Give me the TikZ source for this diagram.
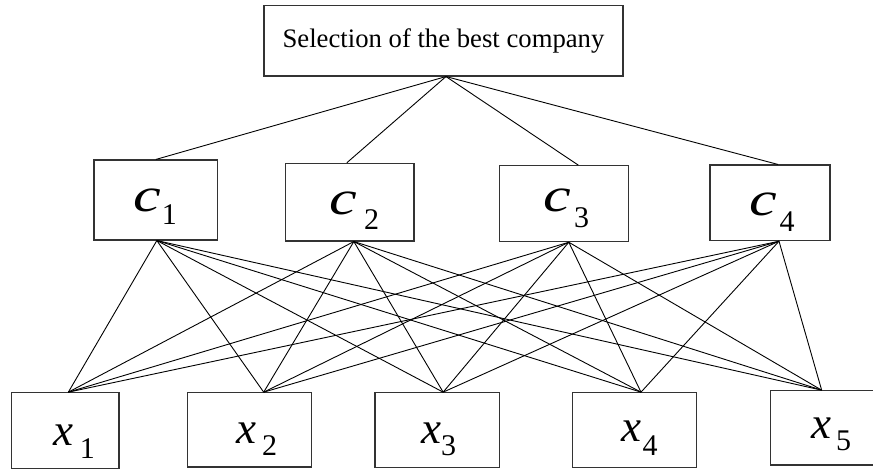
\documentclass[tikz,border=0pt]{standalone}
\usepackage{graphicx}
\usepackage{fontspec}
\setmainfont{Liberation Serif}
\newcommand{\clab}[3]{\rlap{\scalebox{1.3}[1]{\fontsize{48}{48}\selectfont\itshape c}}\hspace{#1pt}\raisebox{-#2pt}{\fontsize{30}{30}\selectfont #3}}
\newcommand{\xlab}[3]{\rlap{\fontsize{45}{45}\selectfont\itshape x}\hspace{#1pt}\raisebox{-#2pt}{\fontsize{30}{30}\selectfont #3}}
\begin{document}
\begin{tikzpicture}[x=1pt,y=-1pt,
  box/.style={draw=black!80, line width=1.1pt, rectangle, inner sep=0pt},
  link/.style={draw=black, line width=0.9pt},
  lbl/.style={inner sep=0pt, anchor=base west}]
\useasboundingbox (0,0) rectangle (873,470);
% boxes
\node[box, minimum width=359pt, minimum height=70.3pt, font=\fontsize{26.7}{30}\selectfont] (top) at (443.5,40.85) {Selection of the best company};
\node[box, minimum width=123.7pt, minimum height=80pt] (c1) at (155.85,200) {};
\node[box, minimum width=128.3pt, minimum height=77.7pt] (c2) at (349.85,202.15) {};
\node[box, minimum width=129pt, minimum height=76pt] (c3) at (563.8,203.7) {};
\node[box, minimum width=120pt, minimum height=75.7pt] (c4) at (770,202.85) {};
\node[box, minimum width=107.3pt, minimum height=75.6pt] (x1) at (65.35,430.5) {};
\node[box, minimum width=124pt, minimum height=74.3pt] (x2) at (249.7,429.85) {};
\node[box, minimum width=124.3pt, minimum height=74.6pt] (x3) at (437.15,430) {};
\node[box, minimum width=124.4pt, minimum height=74.6pt] (x4) at (634.5,430) {};
\node[box, minimum width=109.3pt, minimum height=74.3pt] (x5) at (825.35,427.85) {};
% labels
\node[lbl] (lc1) at (133,211.7) {\clab{28.7}{13.3}{1}};
\node[lbl] (lc2) at (329.7,215) {\clab{34.3}{15}{2}};
\node[lbl] (lc3) at (543,212) {\clab{31}{16}{3}};
\node[lbl] (lc4) at (749.7,216) {\clab{29.8}{15.7}{4}};
\node[lbl] (lx1) at (53.1,445) {\xlab{26.6}{13.3}{1}};
\node[lbl] (lx2) at (236.4,443.3) {\xlab{25.6}{11.7}{2}};
\node[lbl] (lx3) at (421.4,443) {\xlab{19.6}{12}{3}};
\node[lbl] (lx4) at (621.4,441.7) {\xlab{21.1}{13.3}{4}};
\node[lbl] (lx5) at (811.4,438.3) {\xlab{24.6}{11.7}{5}};
% attachment points
\coordinate (tb) at ([xshift=2.5]top.south);
\coordinate (c1t) at (c1.north);
\coordinate (c2t) at ([xshift=-3]c2.north);
\coordinate (c3t) at ([xshift=14.5]c3.north);
\coordinate (c4t) at ([xshift=8]c4.north);
\coordinate (c1b) at ([xshift=1]c1.south);
\coordinate (c2b) at ([xshift=4]c2.south);
\coordinate (c3b) at ([xshift=5]c3.south);
\coordinate (c4b) at ([xshift=9]c4.south);
\coordinate (x1t) at ([xshift=3]x1.north);
\coordinate (x2t) at ([xshift=14]x2.north);
\coordinate (x3t) at ([xshift=6]x3.north);
\coordinate (x4t) at ([xshift=6.5]x4.north);
\coordinate (x5t) at ([xshift=-3.7]x5.north);
% connectors
\foreach \c in {c1t,c2t,c3t,c4t} \draw[link] (tb) -- (\c);
\foreach \c in {c1b,c2b,c3b,c4b}
  \foreach \x in {x1t,x2t,x3t,x4t,x5t}
    \draw[link] (\c) -- (\x);
\end{tikzpicture}
\end{document}
